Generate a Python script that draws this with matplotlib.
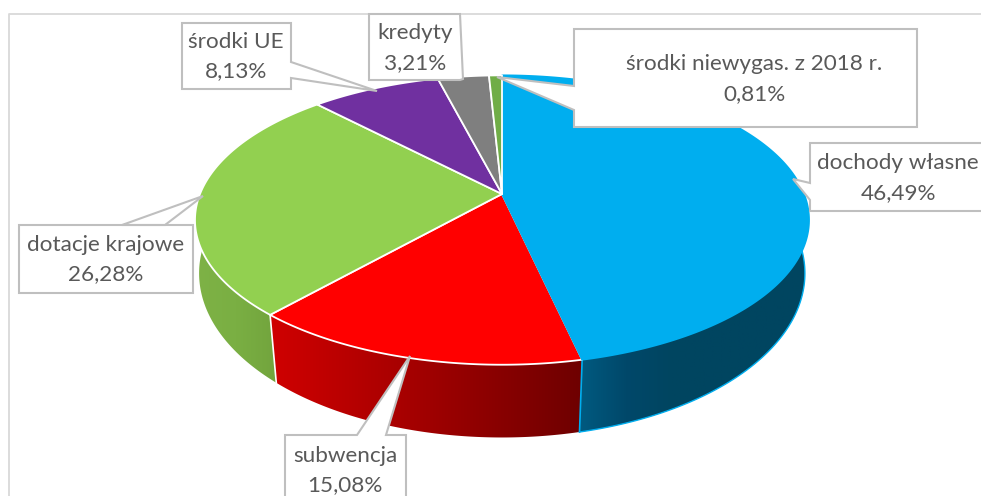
import numpy as np
import matplotlib
matplotlib.use("Agg")
import matplotlib.pyplot as plt
from matplotlib.patches import Polygon
from matplotlib.colors import LinearSegmentedColormap

# data
categories = ["dochody własne", "subwencja", "dotacje krajowe", "środki UE", "kredyty", "środki niewygas. z 2018 r."]
values = [46.49, 15.08, 26.28, 8.13, 3.21, 0.81]
value_labels = ["46,49%", "15,08%", "26,28%", "8,13%", "3,21%", "0,81%"]
top_colors = ["#00AEEF", "#FF0000", "#92D050", "#7030A0", "#7F7F7F", "#70AD47"]
edge_colors = ["#00AEEF", "#FFFFFF", "#FFFFFF", "#FFFFFF", "#FFFFFF", "#FFFFFF"]

# 3D projection of the pie (pixel units)
TOP = dict(cx=502, cy=194, B=302, A=140, k=0.18)
BOT = dict(cx=502, cy=247, B=299, A=160, k=0.16)

def project(theta_deg, p):
    t = np.radians(theta_deg)
    u, v = np.sin(t), np.cos(t)
    d = 1 + p["k"] * v
    return p["cx"] + p["B"] * u / d, p["cy"] - p["A"] * v / d

fig = plt.figure(figsize=(9.81, 4.96), dpi=100)
ax = fig.add_axes([0, 0, 1, 1])
ax.set_xlim(0, 981)
ax.set_ylim(496, 0)
ax.axis("off")

# chart frame
ax.plot([9, 9, 981], [496, 14, 14], color="#D9D9D9", lw=1.3, zorder=0)

bounds = np.concatenate([[0], np.cumsum(values)]) / sum(values) * 360

# side walls: slice index, first angle, last angle
walls = [(0, 70, bounds[1]), (1, bounds[1], bounds[2]), (2, bounds[2], 292)]
wall_grads = {0: ("#005A80", "#00486A", "#004560", "#004560", "#004560", "#004560"),
              1: ("#D00000", "#A00000", "#6E0000"),
              2: ("#7EB246", "#7AAF43", "#72A43D")}
for i, a0, a1 in walls:
    th = np.linspace(a0, a1, 120)
    xt, yt = project(th, TOP)
    xb, yb = project(th, BOT)
    pts = np.column_stack([np.r_[xt, xb[::-1]], np.r_[yt, yb[::-1]]])
    poly = Polygon(pts, closed=True, fc="none", ec="none", transform=ax.transData)
    ax.add_patch(poly)
    cmap = LinearSegmentedColormap.from_list("w", wall_grads[i])
    grad = np.linspace(0, 1, 256)[None, :]
    x0, x1 = pts[:, 0].min(), pts[:, 0].max()
    im = ax.imshow(grad, cmap=cmap, extent=[x0, x1, 450, 150], aspect="auto",
                   zorder=1, interpolation="bilinear")
    im.set_clip_path(poly)
    if i == 0:
        ax.plot(xb, yb, color="#00AEEF", lw=1.0, zorder=1.5)
        ax.plot([xb[-1], xt[-1]], [yb[-1], yt[-1]], color="#00AEEF", lw=1.2, zorder=1.6)
    if i == 2:
        ax.plot([xb[0], xt[0]], [yb[0], yt[0]], color="#FFFFFF", lw=1.2, zorder=1.6)
ax.set_xlim(0, 981)
ax.set_ylim(496, 0)

# top face
order = [1, 0, 2, 3, 4, 5]
for n, i in enumerate(order):
    th = np.linspace(bounds[i], bounds[i + 1], 200)
    x, y = project(th, TOP)
    pts = np.column_stack([np.r_[TOP["cx"], x], np.r_[TOP["cy"], y]])
    ax.add_patch(Polygon(pts, closed=True, fc=top_colors[i], ec=edge_colors[i], lw=1.3,
                         joinstyle="round", zorder=2 + n * 0.01))

# callouts: box (x0, y0, x1, y1), text centre x, text line y's, callout points
callouts = [
    dict(i=0, box=(810, 143, 990, 211), tx=898, ty=(163, 193),
         tail=[(810, 200), (793, 179), (810, 183)], side="left"),
    dict(i=1, box=(285, 435, 406, 510), tx=345, ty=(456, 485),
         tail=[(386, 435), (410, 356), (357, 435)], side="top"),
    dict(i=2, box=(19, 225, 193, 293), tx=106, ty=(245, 274),
         tail=[(122, 225), (203, 196), (165, 225)], side="top"),
    dict(i=3, box=(182, 23, 291, 89), tx=236, ty=(42, 71),
         tail=[(291, 62), (377, 91), (291, 78)], side="right"),
    dict(i=4, box=(369, 14, 460, 80), tx=415, ty=(33, 63),
         tail=[(460, 14), (463, 79), (460, 80)], side="right"),
    dict(i=5, box=(574, 29, 917, 127), tx=754, ty=(64, 94),
         tail=[(574, 110), (497, 77), (574, 86)], side="left"),
]
for c in callouts:
    x0, y0, x1, y1 = c["box"]
    t = c["tail"]
    if c["side"] == "left":
        pts = [(x0, y1)] + t + [(x0, y0), (x1, y0), (x1, y1)]
    elif c["side"] == "top":
        pts = [(x0, y0)] + t[::-1] + [(x1, y0), (x1, y1), (x0, y1)]
    else:
        pts = [(x0, y0), (x1, y0)] + t + [(x1, y1), (x0, y1)]
    ax.add_patch(Polygon(pts, closed=True, fc="white", ec="#BFBFBF", lw=1.5,
                         joinstyle="miter", zorder=5))
    ax.text(c["tx"], c["ty"][0], categories[c["i"]], ha="center", va="center", family="Lato",
            fontsize=16.2, color="#595959", zorder=6)
    ax.text(c["tx"], c["ty"][1], value_labels[c["i"]], ha="center", va="center", family="Lato",
            fontsize=16.2, color="#595959", zorder=6)

fig.savefig("out.png", dpi=100)
